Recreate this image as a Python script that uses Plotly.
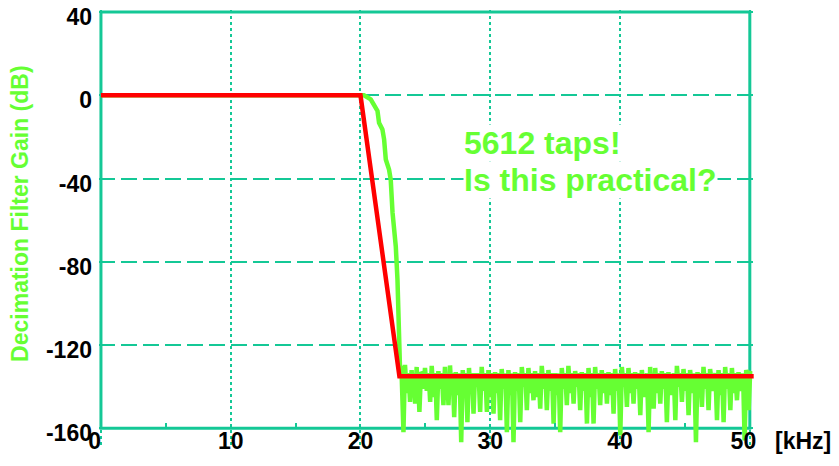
import plotly.graph_objects as go

# ---------------- data ----------------
# ideal (red) response
ideal_khz = [0, 20, 23, 50.3]
ideal_db = [0, 0, -135, -135]

# actual (green) response: passband + roll-off
roll_khz = [0, 20.27, 20.79, 21.04, 21.31, 21.43, 21.69, 21.82, 21.95, 22.20, 22.33, 22.47, 22.72, 22.85, 22.98, 23.05, 23.15]
roll_db = [0, 0, -1.9, -5.2, -7.5, -13.2, -16.4, -21.2, -30.8, -35.7, -40.5, -56.4, -72.6, -88.7, -120.8, -132, -130]

# stop-band ripple: deep notches
spike_khz = [23.31, 23.82, 24.21, 24.54, 24.85, 25.37, 25.88, 26.39, 26.78, 27.22,
             27.76, 28.24, 28.71, 29.22, 29.74, 30.25, 30.76, 31.28, 31.79, 32.31,
             32.82, 33.33, 33.85, 34.36, 34.88, 35.39, 35.90, 36.42, 36.93, 37.45,
             37.96, 38.47, 38.99, 39.50, 40.02, 40.53, 41.04, 41.56, 42.20, 42.59,
             43.10, 43.61, 44.26, 44.77, 45.28, 45.85, 46.31, 46.82, 47.47, 47.98,
             48.50, 49.01, 49.60, 49.91]
spike_db = [-161.8, -147.3, -148.1, -152.1, -141.0, -147.3, -156.1, -148.9, -148.9, -154.6,
            -166.6, -157.0, -152.9, -152.1, -152.1, -152.9, -156.1, -161.8, -166.6, -157.0,
            -151.3, -146.5, -150.5, -151.3, -157.7, -161.8, -148.9, -148.1, -151.3, -157.7,
            -157.7, -148.9, -148.1, -152.9, -163.4, -149.7, -148.1, -153.7, -161.8, -150.5,
            -148.1, -157.0, -156.1, -147.3, -153.7, -166.6, -149.7, -151.3, -156.1, -157.0,
            -151.3, -146.5, -165.8, -151.3]
# ripple peaks after each notch
peak_db = [-129.5, -132, -130.5, -133, -131, -130, -132.5, -130.5, -129.8, -133,
           -132, -131, -133.5, -130.5, -132, -133, -131.5, -132, -133, -130.5,
           -131, -132.5, -130, -132, -133.5, -131, -130, -132.5, -133, -131,
           -130.5, -132, -133, -131.5, -130.5, -131, -133, -132, -130.5, -131,
           -132.5, -133, -130, -131.5, -132, -133, -130.5, -131.5, -132, -130.5,
           -131, -133, -132, -132.5]
# shallow dips between notches
dip_db = [-143, -141, -144, -140, -142, -145, -141, -143, -142, -144,
          -141, -143, -140, -142, -145, -143, -141, -144, -142, -140,
          -143, -145, -141, -142, -144, -141, -143, -140, -142, -145,
          -141, -143, -144, -142, -140, -143, -141, -145, -142, -143,
          -141, -144, -140, -142, -143, -145, -141, -142, -144, -141,
          -143, -142, -140]
end_khz = 50.0
end_db = -133

x_ticks = [0, 10, 20, 30, 40, 50]
x_ticktext = ["0\u00a0\u00a0", "10", "20", "30", "40", "50\u00a0\u00a0"]
x_minor = [5, 15, 25, 35, 45]
y_ticks = [40, 0, -40, -80, -120, -160]

# ---------------- build green trace ----------------
gx = list(roll_khz)
gy = list(roll_db)
off = 0.12
for i, (sx, sd) in enumerate(zip(spike_khz, spike_db)):
    gx.append(sx)
    gy.append(sd)
    gx.append(sx + off)
    gy.append(peak_db[i])
    if i < len(dip_db):
        nx = spike_khz[i + 1]
        gx.append((sx + nx) / 2)
        gy.append(dip_db[i])
        gx.append(nx - off)
        gy.append(-133.5)
gx.append(end_khz)
gy.append(end_db)

TEAL = "#14C896"
GREEN = "#66FF33"
FONT = "Liberation Sans, Arial, sans-serif"

fig = go.Figure()
fig.add_trace(go.Scatter(x=gx, y=gy, mode="lines",
                         line=dict(color=GREEN, width=4.5), hoverinfo="skip"))
fig.add_trace(go.Scatter(x=ideal_khz, y=ideal_db, mode="lines",
                         line=dict(color="#FF0000", width=4.5), hoverinfo="skip"))

Y_MIN, Y_MAX = -168, 41
fig.update_layout(
    template="none",
    width=839, height=466,
    margin=dict(l=99, r=84, t=10, b=21, autoexpand=False),
    paper_bgcolor="white", plot_bgcolor="white",
    showlegend=False,
    xaxis=dict(range=[-0.15, 50.4], tickvals=x_ticks, ticktext=x_ticktext,
               anchor="free", position=(-160 - Y_MIN) / (Y_MAX - Y_MIN),
               automargin=False, ticklabelstandoff=-3,
               showline=False, zeroline=False, ticks="",
               showgrid=True, gridcolor=TEAL, gridwidth=1.5, griddash="dot",
               tickfont=dict(family=FONT, size=23, color="black", weight="bold"),
               minor=dict(tickvals=x_minor, ticks="inside", ticklen=5, tickwidth=2,
                          tickcolor=TEAL, showgrid=False)),
    yaxis=dict(range=[Y_MIN, Y_MAX], tickvals=y_ticks, ticktext=[str(v) for v in y_ticks],
               automargin=False, ticklabeloverflow="allow",
               ticklabelstandoff=6, ticklabelshift=5,
               showline=False, zeroline=False, ticks="",
               showgrid=True, gridcolor=TEAL, gridwidth=2, griddash="16px,6px",
               tickfont=dict(family=FONT, size=23, color="black", weight="bold")),
)

# plot frame
fig.add_shape(type="rect", xref="x", yref="y", x0=0, x1=50, y0=-160, y1=40,
              line=dict(color=TEAL, width=3), layer="between")

fig.add_annotation(xref="x", yref="y", x=27.9, y=-23, text="5612 taps!",
                   showarrow=False, xanchor="left", yanchor="middle",
                   bgcolor="white", borderpad=0,
                   font=dict(family=FONT, size=32, color=GREEN, weight="bold"))
fig.add_annotation(xref="x", yref="y", x=27.9, y=-40.8, text="Is this practical?",
                   showarrow=False, xanchor="left", yanchor="middle",
                   bgcolor="white", borderpad=0,
                   font=dict(family=FONT, size=32, color=GREEN, weight="bold"))
fig.add_annotation(xref="paper", yref="paper", x=-0.1206, y=0.531,
                   text="Decimation Filter Gain (dB)", textangle=-90,
                   showarrow=False, xanchor="center", yanchor="middle",
                   font=dict(family=FONT, size=23, color=GREEN, weight="bold"))
fig.add_annotation(xref="paper", yref="paper", x=(803 - 99) / 656, y=(445 - 441) / 435,
                   text="[kHz]",
                   showarrow=False, xanchor="center", yanchor="middle",
                   font=dict(family=FONT, size=23, color="black", weight="bold"))

fig.write_html("out.html", config={"displayModeBar": False},
               post_script="document.body.style.margin='0';")
